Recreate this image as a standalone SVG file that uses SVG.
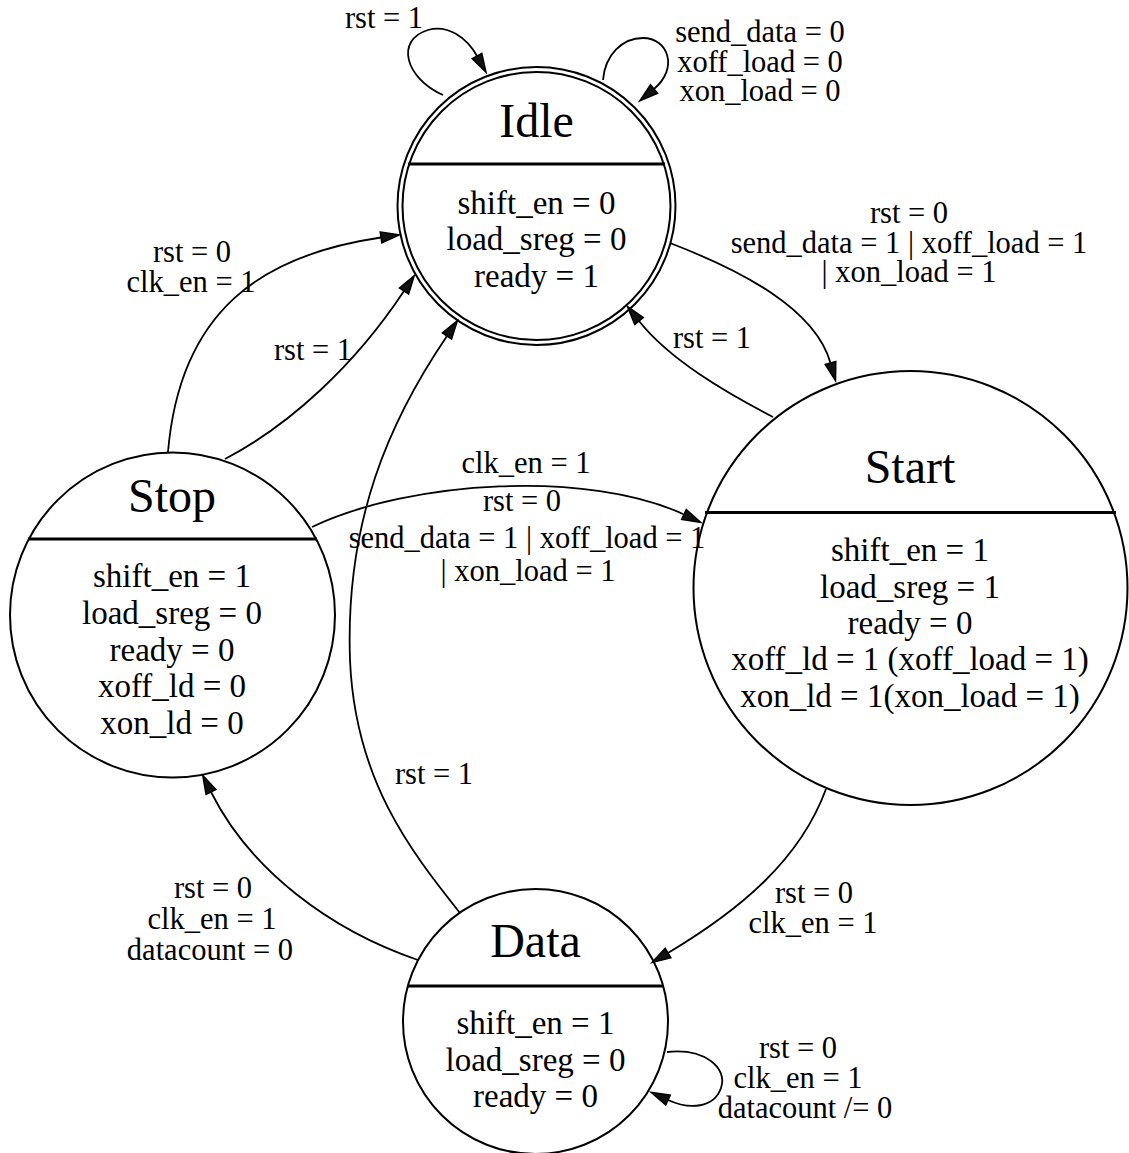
<svg xmlns="http://www.w3.org/2000/svg" width="1129" height="1153" viewBox="0 0 1129 1153">
  <defs>
    <style>
      .state { fill: none; stroke: #000; stroke-width: 2; }
      .divider { stroke: #000; stroke-width: 3; }
      .edge { fill: none; stroke: #000; stroke-width: 1.8; marker-end: url(#arrow); }
      text { font-family: "Liberation Serif", "Times New Roman", serif; fill: #000; text-anchor: middle; }
      .title { font-size: 48px; }
      .body { font-size: 33px; }
      .label { font-size: 30.5px; }
    </style>
    <marker id="arrow" viewBox="-2 -8 24 16" markerWidth="24" markerHeight="16" refX="0" refY="0" orient="auto" markerUnits="userSpaceOnUse" overflow="visible">
      <path d="M0,-5.5 L18.5,0 L0,5.5 Z" fill="#111" stroke="#000" stroke-width="1.5" stroke-linejoin="miter"/>
    </marker>
  </defs>

  <rect width="1129" height="1153" fill="#fff"/>

  <!-- transitions -->
  <g id="edges">
    <!-- Idle -> Idle (rst = 1) -->
    <path class="edge" d="M443,95 C405,78 395,40 428,30 C448,24 467,38 477,56"/>
    <text class="label" x="384" y="28">rst = 1</text>

    <!-- Idle -> Idle (no request) -->
    <path class="edge" d="M603,80 C605,55 622,38 643,38 C668,38 679,68 654,89"/>
    <text class="label" x="760" y="42">send_data = 0</text>
    <text class="label" x="760" y="72">xoff_load = 0</text>
    <text class="label" x="760" y="101">xon_load = 0</text>

    <!-- Idle -> Start -->
    <path class="edge" d="M670,243 C740,270 815,308 830.5,363"/>
    <text class="label" x="909" y="223">rst = 0</text>
    <text class="label" x="909" y="253">send_data = 1 | xoff_load = 1</text>
    <text class="label" x="909" y="282">| xon_load = 1</text>

    <!-- Start -> Idle -->
    <path class="edge" d="M773,417 C725,392 670,360 639,321"/>
    <text class="label" x="712" y="348">rst = 1</text>

    <!-- Stop -> Idle (rst = 0, clk_en = 1) -->
    <path class="edge" d="M168,452 C180,310 262,255 381,237.5"/>
    <text class="label" x="192" y="262">rst = 0</text>
    <text class="label" x="191" y="292">clk_en = 1</text>

    <!-- Stop -> Idle (rst = 1) -->
    <path class="edge" d="M225,459 C290,425 355,365 404,291"/>
    <text class="label" x="313" y="360">rst = 1</text>

    <!-- Data -> Idle (rst = 1) -->
    <path class="edge" d="M460,913 C410,850 355,780 350,660 C345,520 390,420 447,336"/>
    <text class="label" x="434" y="784">rst = 1</text>

    <!-- Stop -> Start -->
    <path class="edge" d="M312,527 C410,480 590,470 684,514.5"/>
    <text class="label" x="526" y="473">clk_en = 1</text>
    <text class="label" x="522" y="511">rst = 0</text>
    <text class="label" x="527" y="548">send_data = 1 | xoff_load = 1</text>
    <text class="label" x="528" y="581">| xon_load = 1</text>

    <!-- Start -> Data -->
    <path class="edge" d="M826,789 C800,860 740,910 668,953"/>
    <text class="label" x="814" y="903">rst = 0</text>
    <text class="label" x="813" y="933">clk_en = 1</text>

    <!-- Data -> Stop -->
    <path class="edge" d="M418,960 C330,930 250,870 211,792"/>
    <text class="label" x="213" y="898">rst = 0</text>
    <text class="label" x="212" y="929">clk_en = 1</text>
    <text class="label" x="210" y="960">datacount = 0</text>

    <!-- Data -> Data -->
    <path class="edge" d="M667,1052 C705,1048 728,1068 721,1088 C714,1108 690,1110 668,1100"/>
    <text class="label" x="798" y="1058">rst = 0</text>
    <text class="label" x="798" y="1088">clk_en = 1</text>
    <text class="label" x="805" y="1118">datacount /= 0</text>
  </g>

  <!-- Idle (initial state, double circle) -->
  <g id="idle">
    <circle class="state" cx="536.5" cy="206" r="139"/>
    <circle class="state" cx="536.5" cy="206" r="134"/>
    <line class="divider" x1="408" y1="164" x2="665" y2="164"/>
    <text class="title" x="536.5" y="137">Idle</text>
    <text class="body" x="536.5" y="214">shift_en = 0</text>
    <text class="body" x="536.5" y="250">load_sreg = 0</text>
    <text class="body" x="536.5" y="287">ready = 1</text>
  </g>

  <!-- Start -->
  <g id="start">
    <circle class="state" cx="910.5" cy="588" r="217"/>
    <line class="divider" x1="705" y1="512.5" x2="1116" y2="512.5"/>
    <text class="title" x="910" y="483">Start</text>
    <text class="body" x="910" y="561">shift_en = 1</text>
    <text class="body" x="910" y="598">load_sreg = 1</text>
    <text class="body" x="910" y="634">ready = 0</text>
    <text class="body" x="910" y="670">xoff_ld = 1 (xoff_load = 1)</text>
    <text class="body" x="910" y="707">xon_ld = 1(xon_load = 1)</text>
  </g>

  <!-- Stop -->
  <g id="stop">
    <circle class="state" cx="172.5" cy="615" r="162.5"/>
    <line class="divider" x1="28" y1="539" x2="317" y2="539"/>
    <text class="title" x="172" y="512">Stop</text>
    <text class="body" x="172" y="587">shift_en = 1</text>
    <text class="body" x="172" y="624">load_sreg = 0</text>
    <text class="body" x="172" y="661">ready = 0</text>
    <text class="body" x="172" y="697">xoff_ld = 0</text>
    <text class="body" x="172" y="734">xon_ld = 0</text>
  </g>

  <!-- Data -->
  <g id="data">
    <circle class="state" cx="535.5" cy="1021.5" r="132.5"/>
    <line class="divider" x1="408" y1="986" x2="663" y2="986"/>
    <text class="title" x="535.5" y="957">Data</text>
    <text class="body" x="535.5" y="1034">shift_en = 1</text>
    <text class="body" x="535.5" y="1071">load_sreg = 0</text>
    <text class="body" x="535.5" y="1107">ready = 0</text>
  </g>
</svg>
